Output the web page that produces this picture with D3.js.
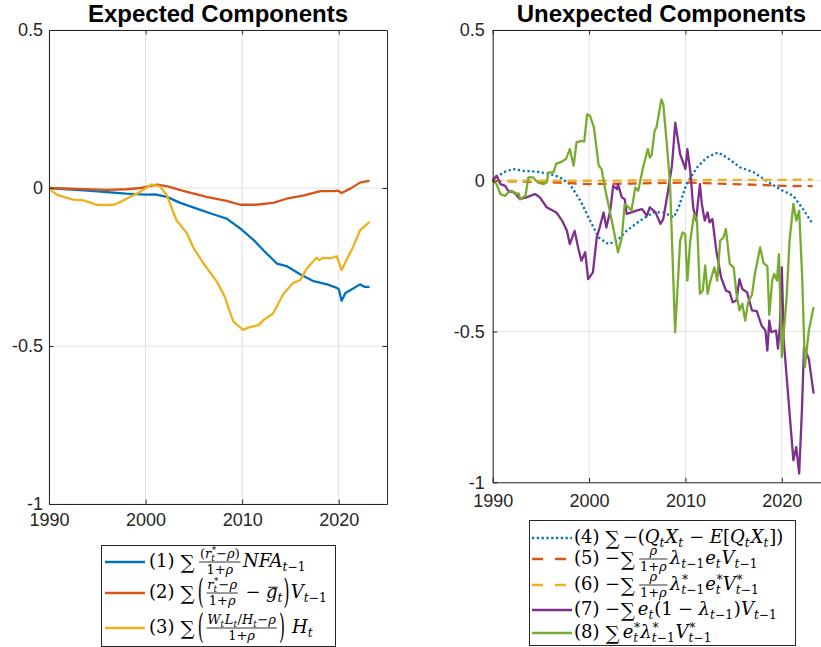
<!DOCTYPE html>
<html><head><meta charset="utf-8">
<script src="https://cdn.jsdelivr.net/npm/d3@7"></script>
<style>body{margin:0;background:#fff}svg{display:block}</style>
</head><body><svg id="c" width="821" height="647"></svg>
<script>
// ---------- DATA ----------
const xTickValues = [1990, 2000, 2010, 2020];
const yTickValues = [-1, -0.5, 0, 0.5];
const yTickLabels = ["-1", "-0.5", "0", "0.5"];
const titles = ["Expected Components", "Unexpected Components"];

// (1) expected: NFA term
const expNFA = [[1990,0],[1992,-0.004],[1994,-0.008],[1996,-0.013],[1998,-0.018],[2000,-0.021],[2001,-0.020],[2002.2,-0.028],[2003.6,-0.047],[2005.3,-0.065],[2007,-0.083],[2008.4,-0.097],[2009.8,-0.128],[2011.2,-0.165],[2012.2,-0.197],[2013.6,-0.239],[2014.6,-0.247],[2016,-0.273],[2017.4,-0.295],[2018.8,-0.305],[2019.8,-0.316],[2020.0,-0.320],[2020.3,-0.357],[2020.7,-0.332],[2021.5,-0.318],[2022.2,-0.305],[2022.7,-0.313],[2023.2,-0.313]];
// (2) expected: V term
const expV = [[1990,0],[1993,-0.003],[1996,-0.006],[1998,-0.004],[1999.5,0.0],[2001.2,0.011],[2002.3,0.005],[2003.6,-0.007],[2005,-0.018],[2006.3,-0.028],[2008.4,-0.041],[2009.8,-0.053],[2011.4,-0.053],[2013.2,-0.047],[2014.6,-0.034],[2016.4,-0.023],[2018.1,-0.010],[2019.5,-0.010],[2019.9,-0.008],[2020.3,-0.016],[2021.2,-0.002],[2022.2,0.017],[2023.2,0.023]];
// (3) expected: H term
const expH = [[1990,0],[1990.4,-0.012],[1990.8,-0.021],[1991.5,-0.028],[1992.5,-0.037],[1993.6,-0.039],[1994.9,-0.053],[1995.8,-0.054],[1996.7,-0.053],[1997.4,-0.044],[1998.4,-0.028],[1999.4,-0.013],[2000.6,0.011],[2001.5,0.005],[2002.2,-0.023],[2003.2,-0.102],[2004.3,-0.144],[2004.9,-0.186],[2006.0,-0.239],[2007.4,-0.297],[2008.2,-0.344],[2008.7,-0.390],[2009.1,-0.423],[2010.1,-0.449],[2010.7,-0.441],[2011.7,-0.434],[2012.2,-0.418],[2013.2,-0.397],[2014.3,-0.334],[2015.3,-0.300],[2016.0,-0.292],[2016.7,-0.255],[2017.7,-0.221],[2018.0,-0.228],[2018.4,-0.221],[2019.1,-0.223],[2019.8,-0.216],[2020.3,-0.260],[2020.7,-0.234],[2021.5,-0.186],[2022.2,-0.134],[2023.2,-0.107]];

// (4) unexpected: Q X surprise
const unexpQX = [[1990,0],[1990.2,0.006],[1991.1,0.028],[1992.1,0.039],[1993.2,0.033],[1994.6,0.030],[1996.0,0.022],[1997.0,0.011],[1998.0,-0.011],[1999.1,-0.066],[2000.1,-0.132],[2001.0,-0.188],[2002.0,-0.210],[2002.9,-0.199],[2003.9,-0.166],[2005.3,-0.132],[2006.7,-0.105],[2007.7,-0.105],[2008.8,-0.121],[2009.3,-0.088],[2010.1,-0.011],[2011.2,0.044],[2012.2,0.077],[2013.4,0.094],[2014.3,0.077],[2015.7,0.044],[2017.1,0.028],[2018.4,0.0],[2019.8,-0.028],[2021.2,-0.050],[2022.2,-0.094],[2023.1,-0.138]];
// (5) unexpected: lambda e V
const unexpE = [[1990,0],[1992,-0.002],[1995,-0.004],[1998,-0.008],[2000,-0.011],[2002,-0.010],[2005,-0.009],[2008,-0.007],[2010,-0.006],[2012,-0.008],[2015,-0.011],[2018,-0.014],[2020,-0.017],[2023.2,-0.018]];
// (6) unexpected: lambda* e* V*
const unexpEstar = [[1990,0],[1995,0.0],[2000,0.0],[2005,0.001],[2010,0.002],[2015,0.003],[2020,0.003],[2023.2,0.004]];
// (7) unexpected: e (1-lambda) V
const unexpPurple = [[1990,0],[1990.4,0.017],[1990.8,-0.011],[1991.3,-0.017],[1991.6,-0.033],[1992.3,-0.039],[1992.8,-0.061],[1993.5,-0.055],[1994.4,-0.044],[1994.9,-0.055],[1995.6,-0.088],[1996.6,-0.105],[1997.2,-0.132],[1997.7,-0.166],[1998.0,-0.210],[1998.5,-0.166],[1998.9,-0.226],[1999.2,-0.265],[1999.6,-0.237],[1999.9,-0.326],[2000.4,-0.304],[2000.8,-0.188],[2001.1,-0.155],[2001.5,-0.105],[2001.8,-0.155],[2002.2,-0.099],[2002.5,-0.017],[2002.9,-0.028],[2003.0,-0.011],[2003.4,-0.055],[2003.7,-0.061],[2003.9,-0.110],[2004.4,-0.105],[2004.9,-0.099],[2005.5,-0.094],[2006.0,-0.116],[2006.3,-0.088],[2006.9,-0.105],[2007.4,-0.143],[2007.7,-0.127],[2008.2,-0.033],[2008.6,0.050],[2008.95,0.193],[2009.45,0.088],[2010.0,0.039],[2010.2,0.105],[2010.5,0.033],[2010.8,-0.088],[2011.1,-0.132],[2011.5,-0.011],[2011.7,-0.077],[2012.0,-0.132],[2012.3,-0.105],[2012.5,-0.138],[2012.8,-0.127],[2013.2,-0.232],[2013.7,-0.320],[2014.2,-0.364],[2014.6,-0.370],[2014.9,-0.403],[2015.3,-0.397],[2015.6,-0.326],[2015.9,-0.359],[2016.4,-0.370],[2016.9,-0.430],[2017.4,-0.432],[2017.9,-0.480],[2018.3,-0.497],[2018.5,-0.563],[2018.7,-0.464],[2018.9,-0.502],[2019.4,-0.497],[2019.6,-0.557],[2019.8,-0.480],[2020.0,-0.287],[2020.2,-0.530],[2020.7,-0.728],[2021.2,-0.927],[2021.5,-0.883],[2021.8,-0.971],[2022.1,-0.750],[2022.3,-0.552],[2022.8,-0.590],[2023.3,-0.706]];
// (8) unexpected: e* lambda* V*
const unexpGreen = [[1990,0],[1990.4,-0.011],[1990.8,-0.044],[1991.3,-0.050],[1991.6,-0.039],[1992.0,-0.033],[1992.3,-0.044],[1992.7,-0.042],[1992.85,-0.061],[1993.4,-0.050],[1993.7,0.011],[1994.2,0.011],[1994.7,-0.006],[1995.3,-0.011],[1995.6,-0.006],[1995.8,0.028],[1996.3,0.028],[1996.6,0.057],[1997.0,0.061],[1997.3,0.066],[1997.6,0.072],[1998.0,0.105],[1998.4,0.050],[1998.7,0.127],[1999.2,0.132],[1999.5,0.130],[1999.8,0.221],[2000.1,0.215],[2000.5,0.177],[2001.0,0.050],[2001.3,0.039],[2001.7,-0.033],[2002.0,-0.077],[2002.5,-0.155],[2003.0,-0.237],[2003.4,-0.188],[2003.7,-0.077],[2004.1,-0.088],[2004.4,-0.099],[2004.8,-0.022],[2005.1,-0.033],[2005.6,0.044],[2006.1,0.105],[2006.3,0.077],[2006.5,0.086],[2006.8,0.166],[2007.0,0.177],[2007.5,0.270],[2007.7,0.254],[2008.1,0.110],[2008.4,-0.011],[2008.93,-0.502],[2009.45,-0.199],[2009.7,-0.171],[2009.97,-0.177],[2010.2,-0.331],[2010.5,-0.199],[2010.9,-0.110],[2011.2,-0.132],[2011.5,-0.375],[2011.8,-0.364],[2012.05,-0.281],[2012.3,-0.375],[2012.6,-0.331],[2013.0,-0.287],[2013.3,-0.331],[2013.6,-0.199],[2013.95,-0.188],[2014.2,-0.160],[2014.6,-0.276],[2015.0,-0.287],[2015.3,-0.375],[2015.6,-0.430],[2015.9,-0.408],[2016.2,-0.464],[2016.5,-0.403],[2016.9,-0.378],[2017.2,-0.310],[2017.75,-0.221],[2018.1,-0.273],[2018.5,-0.283],[2018.7,-0.445],[2019.0,-0.331],[2019.2,-0.309],[2019.5,-0.331],[2019.7,-0.243],[2020.0,-0.585],[2020.5,-0.386],[2020.8,-0.199],[2021.2,-0.077],[2021.5,-0.132],[2021.8,-0.099],[2022.1,-0.309],[2022.4,-0.618],[2022.8,-0.497],[2023.3,-0.419]];

const colors = {blue:"#0072BD", orange:"#D95319", yellow:"#EDB120", purple:"#7E2F8E", green:"#77AC30"};

// ---------- DRAW ----------
const svg = d3.select("#c");
const axisColor = "#262626";
const gridColor = "#dfdfdf";
const tickFont = "'Liberation Sans', Arial, Helvetica, sans-serif";

function panel(cfg) {
  const x = d3.scaleLinear().domain([1990, 2025]).range([cfg.left, cfg.right]);
  const y = d3.scaleLinear().domain([-1, 0.5]).range([cfg.bottom, cfg.top]);
  const g = svg.append("g");
  g.selectAll(".gx").data(xTickValues).join("line")
    .attr("x1", d => x(d)).attr("x2", d => x(d)).attr("y1", cfg.top).attr("y2", cfg.bottom)
    .attr("stroke", gridColor).attr("stroke-width", 0.9);
  g.selectAll(".gy").data(yTickValues).join("line")
    .attr("x1", cfg.left).attr("x2", cfg.right).attr("y1", d => y(d)).attr("y2", d => y(d))
    .attr("stroke", gridColor).attr("stroke-width", 0.9);
  const line = d3.line().x(d => x(d[0])).y(d => y(d[1]));
  cfg.series.forEach(s => {
    g.append("path").datum(s.data).attr("d", line).attr("fill", "none")
      .attr("stroke", s.color).attr("stroke-width", 2.3)
      .attr("stroke-linejoin", "round")
      .attr("stroke-dasharray", s.dash || null);
  });
  const fmtY = d => yTickLabels[yTickValues.indexOf(d)];
  const ax = [
    [d3.axisBottom(x).tickValues(xTickValues).tickFormat(d3.format("d")).tickPadding(cfg.xPad), `translate(0,${cfg.bottom})`],
    [d3.axisTop(x).tickValues(xTickValues).tickFormat(""), `translate(0,${cfg.top})`],
    [d3.axisLeft(y).tickValues(yTickValues).tickFormat(fmtY).tickPadding(cfg.yPad), `translate(${cfg.left},0)`],
    [d3.axisRight(y).tickValues(yTickValues).tickFormat(""), `translate(${cfg.right},0)`]
  ];
  ax.forEach(([a, tr]) => {
    const ag = g.append("g").attr("transform", tr).call(a.tickSizeInner(-4.5).tickSizeOuter(0));
    ag.select(".domain").attr("stroke", axisColor).attr("stroke-width", 1);
    ag.selectAll(".tick line").attr("stroke", axisColor).attr("stroke-width", 1);
    ag.selectAll(".tick text").attr("fill", axisColor).attr("font-size", 18).attr("font-family", tickFont);
  });
  g.append("text").attr("x", (cfg.left + cfg.right) / 2).attr("y", 22)
    .attr("text-anchor", "middle").attr("font-family", tickFont).attr("font-weight", "bold")
    .attr("font-size", 24).attr("fill", "#000").text(cfg.title);
}

panel({left: 49, right: 387, top: 30, bottom: 504, xPad: 9, yPad: 6, title: titles[0],
  series: [
    {data: expNFA, color: colors.blue},
    {data: expV, color: colors.orange},
    {data: expH, color: colors.yellow}
  ]});
panel({left: 492.7, right: 830, top: 30, bottom: 482.3, xPad: 12, yPad: 8, title: titles[1],
  series: [
    {data: unexpQX, color: colors.blue, dash: "2.2,2.6"},
    {data: unexpE, color: colors.orange, dash: "9,6"},
    {data: unexpEstar, color: colors.yellow, dash: "9,6"},
    {data: unexpPurple, color: colors.purple},
    {data: unexpGreen, color: colors.green}
  ]});

// ---------- LEGEND MATH ----------
const mathFont = "'DejaVu Serif', 'Liberation Serif', serif";
function math(g, toks, x, y, fs) {
  let cx = x;
  toks.forEach(t => { cx += mitem(g, t, cx, y, fs); });
  return cx - x;
}
function mtext(g, s, x, y, fs, it) {
  const n = g.append("text").attr("x", x).attr("y", y).attr("font-size", fs)
    .attr("font-family", mathFont).attr("fill", "#000")
    .attr("font-style", it ? "italic" : null).text(s);
  return n.node().getComputedTextLength();
}
function mitem(g, t, x, y, fs) {
  if (typeof t === "string") return mtext(g, t, x, y, fs, false);
  if (t.i !== undefined) {
    const w = mtext(g, t.i, x, y, fs, true);
    if (t.bar) g.append("line").attr("x1", x + fs * 0.12).attr("x2", x + w + fs * 0.02)
      .attr("y1", y - fs * 0.62).attr("y2", y - fs * 0.62).attr("stroke", "#000").attr("stroke-width", fs * 0.05);
    return w;
  }
  if (t.sp !== undefined) return t.sp * fs;
  if (t.sum) return mtext(g, "∑", x + fs * 0.04, y + fs * 0.08, fs * 1.1, false) + fs * 0.2;
  if (t.base) {
    const wb = math(g, t.base, x, y, fs);
    const sf = fs * 0.68;
    let wp = 0, ws = 0;
    if (t.sup) wp = math(g, t.sup, x + wb + fs * 0.04, y - fs * 0.38, sf);
    if (t.sub) ws = math(g, t.sub, x + wb, y + fs * 0.22, sf);
    return wb + Math.max(wp, ws) + fs * 0.05;
  }
  if (t.frac) {
    const f = fs * 0.72;
    const gn = g.append("g"), gd = g.append("g");
    const wn = math(gn, t.frac[0], 0, 0, f);
    const wd = math(gd, t.frac[1], 0, 0, f);
    const w = Math.max(wn, wd) + fs * 0.25;
    const axy = y - fs * 0.3;
    gn.attr("transform", `translate(${x + (w - wn) / 2},${axy - fs * 0.2})`);
    gd.attr("transform", `translate(${x + (w - wd) / 2},${axy + fs * 0.64})`);
    g.append("line").attr("x1", x + fs * 0.08).attr("x2", x + w - fs * 0.08)
      .attr("y1", axy).attr("y2", axy).attr("stroke", "#000").attr("stroke-width", 0.8);
    return w + fs * 0.05;
  }
  if (t.big) {
    const axy = y - fs * 0.3;
    const gg = g.append("g").attr("transform", `translate(${x},${axy}) scale(0.85,${t.h || 1.9})`);
    const w = mtext(gg, t.big, 0, fs * 0.3, fs, false) * 0.85;
    return w + fs * 0.08;
  }
  return 0;
}
const I = s => ({i: s});
const SP = {sp: 0.3};
const sub = (base, s, sup) => ({base: base, sub: s, sup: sup});
const rstar_t = sub([I("r")], [I("t")], ["*"]);
const rho = I("ρ");
const tm1 = [I("t"), "−1"];

const legendLeft = [
  {color: colors.blue, toks: ["(1)", SP, {sum: 1}, {frac: [["(", rstar_t, "−", rho, ")"], ["1+", rho]]}, sub([I("NFA")], tm1)]},
  {color: colors.orange, toks: ["(2)", SP, {sum: 1}, {big: "("}, {frac: [[rstar_t, "−", rho], ["1+", rho]]}, SP, "−", SP, sub([{i: "g", bar: 1}], [I("t")]), {big: ")"}, sub([I("V")], tm1)]},
  {color: colors.yellow, toks: ["(3)", SP, {sum: 1}, {big: "("}, {frac: [[sub([I("W")], [I("t")]), sub([I("L")], [I("t")]), "/", sub([I("H")], [I("t")]), "−", rho], ["1+", rho]]}, {big: ")"}, SP, sub([I("H")], [I("t")])]}
];
const legendRight = [
  {color: colors.blue, dash: "2.2,2.6", toks: ["(4)", SP, {sum: 1}, "−(", sub([I("Q")], [I("t")]), sub([I("X")], [I("t")]), SP, "−", SP, I("E"), "[", sub([I("Q")], [I("t")]), sub([I("X")], [I("t")]), "])"]},
  {color: colors.orange, dash: "11,12", toks: ["(5)", SP, "−", {sum: 1}, {frac: [[rho], ["1+", rho]]}, sub([I("λ")], tm1), sub([I("e")], [I("t")]), sub([I("V")], tm1)]},
  {color: colors.yellow, dash: "11,12", toks: ["(6)", SP, "−", {sum: 1}, {frac: [[rho], ["1+", rho]]}, sub([I("λ")], tm1, ["*"]), sub([I("e")], [I("t")], ["*"]), sub([I("V")], tm1, ["*"])]},
  {color: colors.purple, toks: ["(7)", SP, "−", {sum: 1}, sub([I("e")], [I("t")]), "(1", SP, "−", SP, sub([I("λ")], tm1), ")", sub([I("V")], tm1)]},
  {color: colors.green, toks: ["(8)", SP, {sum: 1}, sub([I("e")], [I("t")], ["*"]), sub([I("λ")], tm1, ["*"]), sub([I("V")], tm1, ["*"])]}
];

function legend(box, rows, rowY, lineX, textX, fs) {
  const g = svg.append("g");
  g.append("rect").attr("x", box[0] + 0.5).attr("y", box[1] + 0.5).attr("width", box[2]).attr("height", box[3])
    .attr("fill", "#fff").attr("stroke", axisColor).attr("stroke-width", 1);
  rows.forEach((r, i) => {
    g.append("line").attr("x1", lineX[0]).attr("x2", lineX[1]).attr("y1", rowY[i]).attr("y2", rowY[i])
      .attr("stroke", r.color).attr("stroke-width", 2.5).attr("stroke-dasharray", r.dash || null);
    math(g, r.toks, textX, rowY[i] + fs * 0.3, fs);
  });
}
legend([101, 545, 234, 101], legendLeft, [562, 593, 628], [105, 145], 149, 18);
legend([529, 520, 266, 125], legendRight, [538, 559, 585, 610, 633], [532, 572], 574, 18);
</script></body></html>
